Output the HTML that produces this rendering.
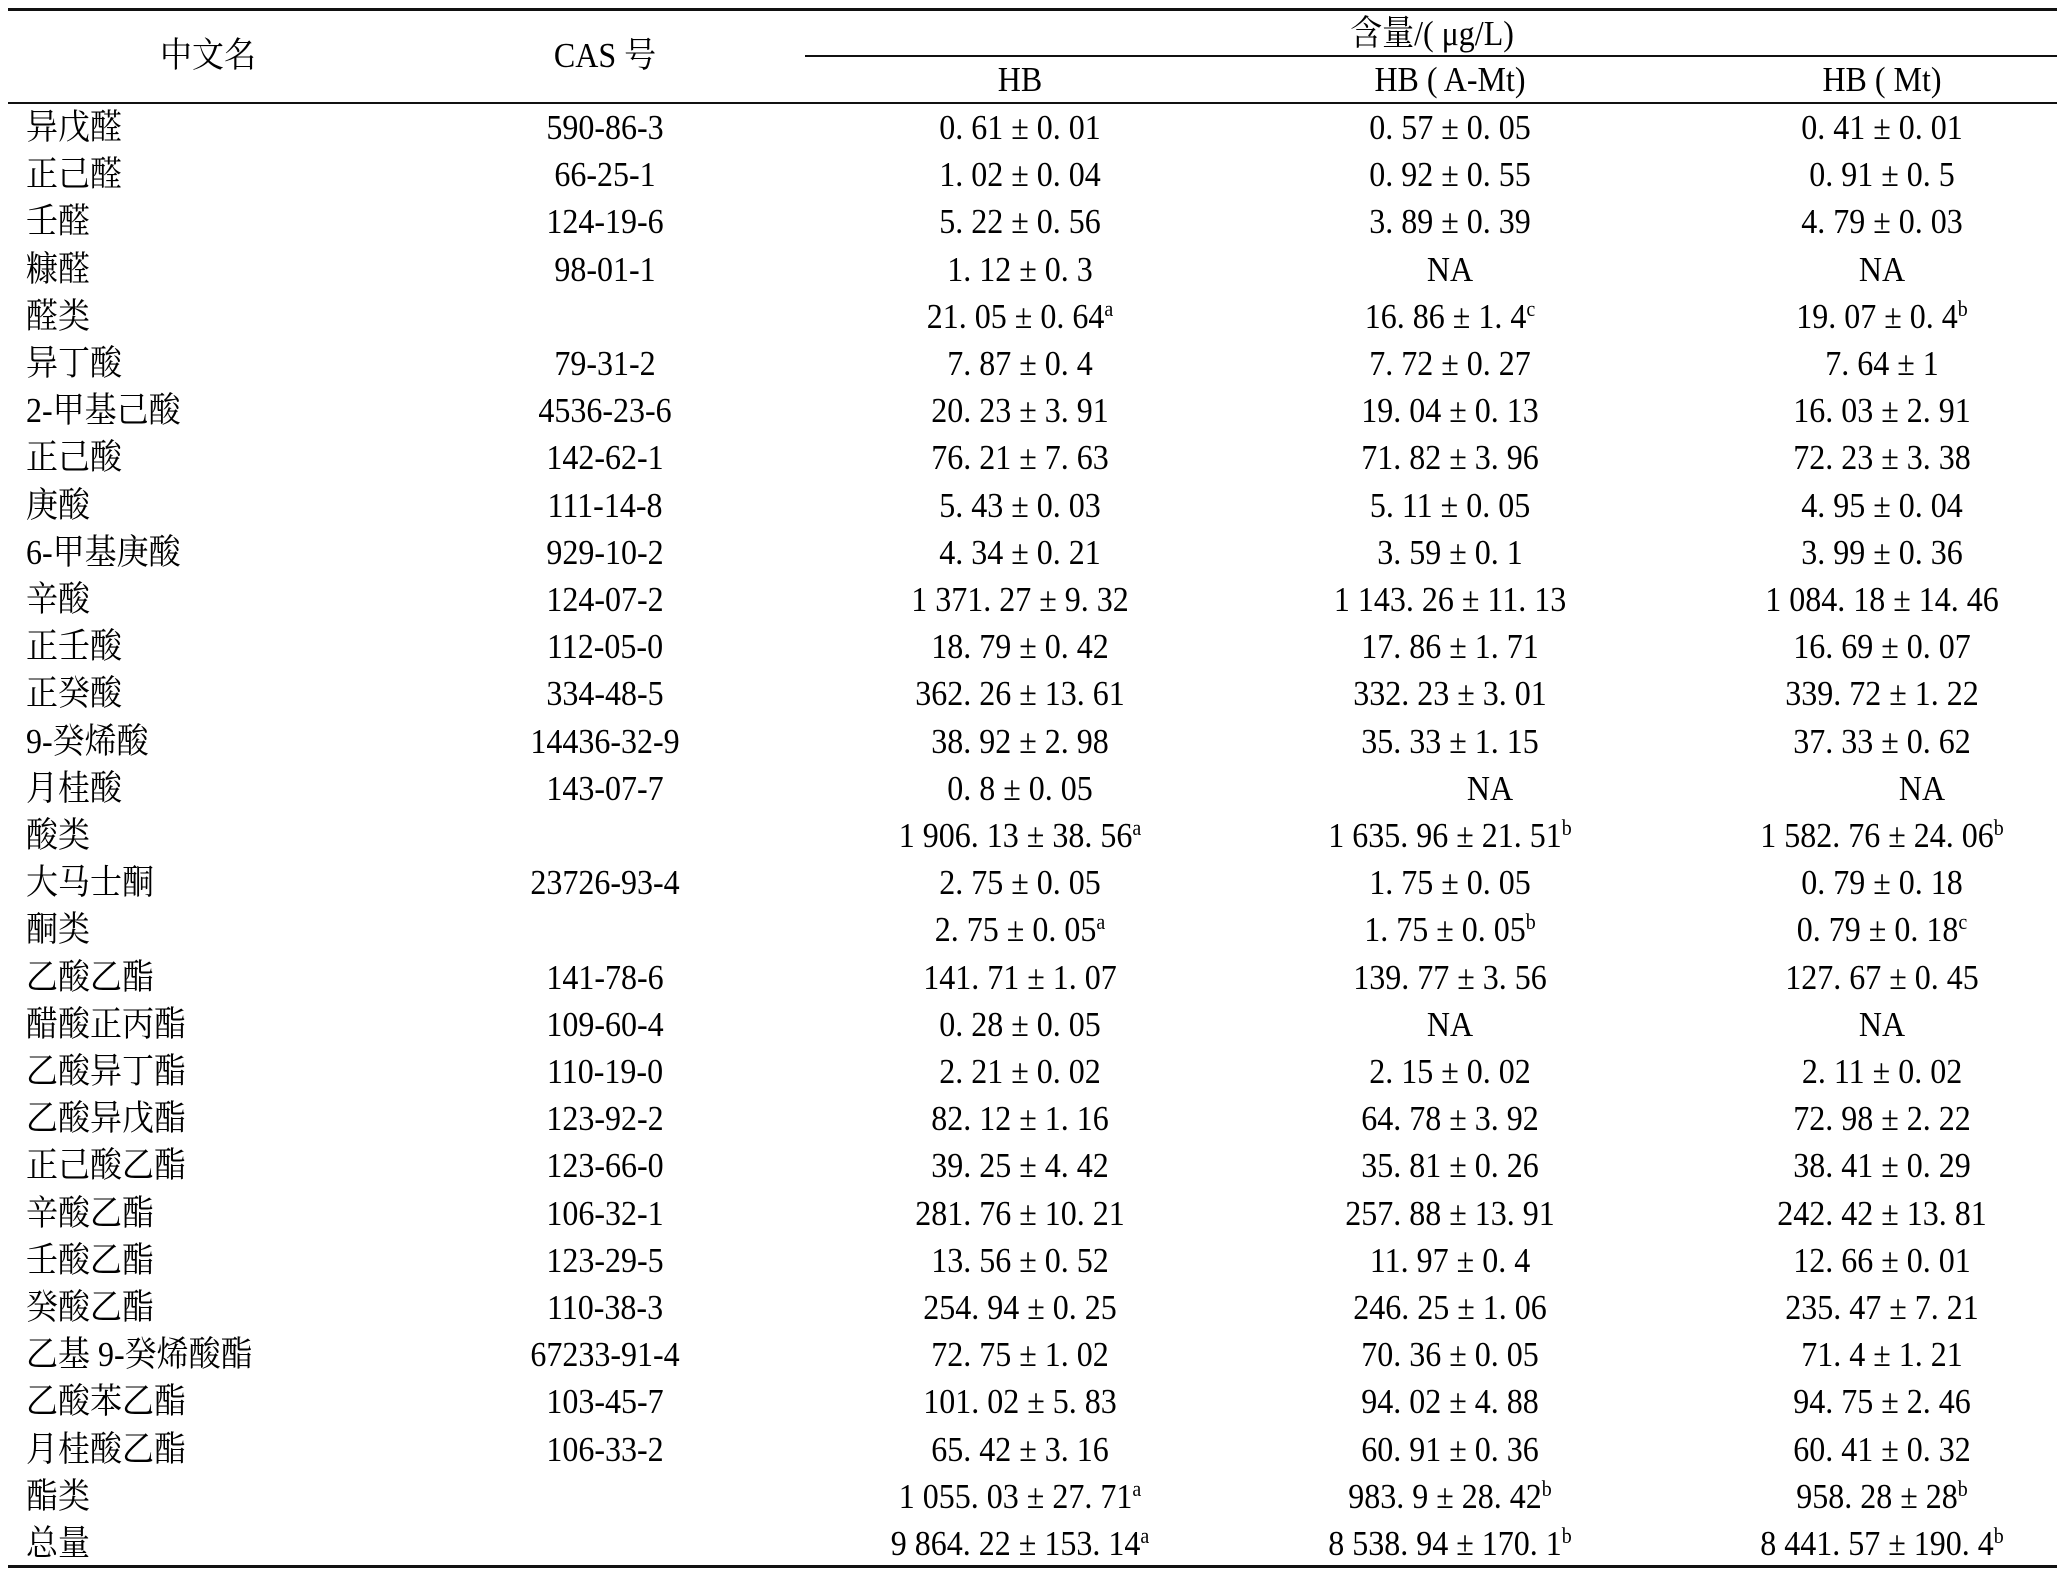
<!DOCTYPE html>
<html><head><meta charset="utf-8"><style>
body{margin:0;background:#fff;}
#c{position:relative;width:2064px;height:1584px;overflow:hidden;background:#fff;font-family:"Liberation Serif","Noto Serif CJK SC","Noto Sans CJK SC",serif;font-size:32px;color:#000;}
.r{position:absolute;left:0;width:2064px;height:47.2px;line-height:47.2px;white-space:pre;}
.r span{position:absolute;top:0;transform:scaleY(1.1);}
.n{left:26px;}
.a{left:455px;width:300px;text-align:center;}
.b{left:820px;width:400px;text-align:center;}
.m{left:1250px;width:400px;text-align:center;}
.t{left:1682px;width:400px;text-align:center;}
sup{font-size:20px;line-height:0;vertical-align:11px;}
.ln{position:absolute;background:#111;}
.h{position:absolute;line-height:40px;white-space:pre;transform:scaleY(1.1);}
</style></head><body><div id="c">
<div class="ln" style="left:8px;top:8px;width:2049px;height:3px"></div>
<div class="ln" style="left:805px;top:55px;width:1252px;height:1.5px"></div>
<div class="ln" style="left:8px;top:102px;width:2049px;height:2px"></div>
<div class="ln" style="left:8px;top:1565px;width:2049px;height:3px"></div>
<div class="h" style="left:108px;top:35px;width:200px;text-align:center">中文名</div>
<div class="h" style="left:455px;top:35px;width:300px;text-align:center">CAS 号</div>
<div class="h" style="left:1232px;top:13px;width:400px;text-align:center">含量/( μg/L)</div>
<div class="h" style="left:820px;top:59px;width:400px;text-align:center">HB</div>
<div class="h" style="left:1250px;top:59px;width:400px;text-align:center">HB ( A-Mt)</div>
<div class="h" style="left:1682px;top:59px;width:400px;text-align:center">HB ( Mt)</div>
<div style="position:absolute;left:0;top:104px">
<div class="r" style="top:0px"><span class="n">异戊醛</span><span class="a">590-86-3</span><span class="b">0. 61 ± 0. 01</span><span class="m">0. 57 ± 0. 05</span><span class="t">0. 41 ± 0. 01</span></div>
<div class="r" style="top:47.2px"><span class="n">正己醛</span><span class="a">66-25-1</span><span class="b">1. 02 ± 0. 04</span><span class="m">0. 92 ± 0. 55</span><span class="t">0. 91 ± 0. 5</span></div>
<div class="r" style="top:94.4px"><span class="n">壬醛</span><span class="a">124-19-6</span><span class="b">5. 22 ± 0. 56</span><span class="m">3. 89 ± 0. 39</span><span class="t">4. 79 ± 0. 03</span></div>
<div class="r" style="top:141.6px"><span class="n">糠醛</span><span class="a">98-01-1</span><span class="b">1. 12 ± 0. 3</span><span class="m">NA</span><span class="t">NA</span></div>
<div class="r" style="top:188.8px"><span class="n">醛类</span><span class="b">21. 05 ± 0. 64<sup>a</sup></span><span class="m">16. 86 ± 1. 4<sup>c</sup></span><span class="t">19. 07 ± 0. 4<sup>b</sup></span></div>
<div class="r" style="top:236px"><span class="n">异丁酸</span><span class="a">79-31-2</span><span class="b">7. 87 ± 0. 4</span><span class="m">7. 72 ± 0. 27</span><span class="t">7. 64 ± 1</span></div>
<div class="r" style="top:283.2px"><span class="n">2-甲基己酸</span><span class="a">4536-23-6</span><span class="b">20. 23 ± 3. 91</span><span class="m">19. 04 ± 0. 13</span><span class="t">16. 03 ± 2. 91</span></div>
<div class="r" style="top:330.4px"><span class="n">正己酸</span><span class="a">142-62-1</span><span class="b">76. 21 ± 7. 63</span><span class="m">71. 82 ± 3. 96</span><span class="t">72. 23 ± 3. 38</span></div>
<div class="r" style="top:377.6px"><span class="n">庚酸</span><span class="a">111-14-8</span><span class="b">5. 43 ± 0. 03</span><span class="m">5. 11 ± 0. 05</span><span class="t">4. 95 ± 0. 04</span></div>
<div class="r" style="top:424.8px"><span class="n">6-甲基庚酸</span><span class="a">929-10-2</span><span class="b">4. 34 ± 0. 21</span><span class="m">3. 59 ± 0. 1</span><span class="t">3. 99 ± 0. 36</span></div>
<div class="r" style="top:472px"><span class="n">辛酸</span><span class="a">124-07-2</span><span class="b">1 371. 27 ± 9. 32</span><span class="m">1 143. 26 ± 11. 13</span><span class="t">1 084. 18 ± 14. 46</span></div>
<div class="r" style="top:519.2px"><span class="n">正壬酸</span><span class="a">112-05-0</span><span class="b">18. 79 ± 0. 42</span><span class="m">17. 86 ± 1. 71</span><span class="t">16. 69 ± 0. 07</span></div>
<div class="r" style="top:566.4px"><span class="n">正癸酸</span><span class="a">334-48-5</span><span class="b">362. 26 ± 13. 61</span><span class="m">332. 23 ± 3. 01</span><span class="t">339. 72 ± 1. 22</span></div>
<div class="r" style="top:613.6px"><span class="n">9-癸烯酸</span><span class="a">14436-32-9</span><span class="b">38. 92 ± 2. 98</span><span class="m">35. 33 ± 1. 15</span><span class="t">37. 33 ± 0. 62</span></div>
<div class="r" style="top:660.8px"><span class="n">月桂酸</span><span class="a">143-07-7</span><span class="b">0. 8 ± 0. 05</span><span class="m" style="left:1290px">NA</span><span class="t" style="left:1722px">NA</span></div>
<div class="r" style="top:708px"><span class="n">酸类</span><span class="b">1 906. 13 ± 38. 56<sup>a</sup></span><span class="m">1 635. 96 ± 21. 51<sup>b</sup></span><span class="t">1 582. 76 ± 24. 06<sup>b</sup></span></div>
<div class="r" style="top:755.2px"><span class="n">大马士酮</span><span class="a">23726-93-4</span><span class="b">2. 75 ± 0. 05</span><span class="m">1. 75 ± 0. 05</span><span class="t">0. 79 ± 0. 18</span></div>
<div class="r" style="top:802.4px"><span class="n">酮类</span><span class="b">2. 75 ± 0. 05<sup>a</sup></span><span class="m">1. 75 ± 0. 05<sup>b</sup></span><span class="t">0. 79 ± 0. 18<sup>c</sup></span></div>
<div class="r" style="top:849.6px"><span class="n">乙酸乙酯</span><span class="a">141-78-6</span><span class="b">141. 71 ± 1. 07</span><span class="m">139. 77 ± 3. 56</span><span class="t">127. 67 ± 0. 45</span></div>
<div class="r" style="top:896.8px"><span class="n">醋酸正丙酯</span><span class="a">109-60-4</span><span class="b">0. 28 ± 0. 05</span><span class="m">NA</span><span class="t">NA</span></div>
<div class="r" style="top:944px"><span class="n">乙酸异丁酯</span><span class="a">110-19-0</span><span class="b">2. 21 ± 0. 02</span><span class="m">2. 15 ± 0. 02</span><span class="t">2. 11 ± 0. 02</span></div>
<div class="r" style="top:991.2px"><span class="n">乙酸异戊酯</span><span class="a">123-92-2</span><span class="b">82. 12 ± 1. 16</span><span class="m">64. 78 ± 3. 92</span><span class="t">72. 98 ± 2. 22</span></div>
<div class="r" style="top:1038.4px"><span class="n">正己酸乙酯</span><span class="a">123-66-0</span><span class="b">39. 25 ± 4. 42</span><span class="m">35. 81 ± 0. 26</span><span class="t">38. 41 ± 0. 29</span></div>
<div class="r" style="top:1085.6px"><span class="n">辛酸乙酯</span><span class="a">106-32-1</span><span class="b">281. 76 ± 10. 21</span><span class="m">257. 88 ± 13. 91</span><span class="t">242. 42 ± 13. 81</span></div>
<div class="r" style="top:1132.8px"><span class="n">壬酸乙酯</span><span class="a">123-29-5</span><span class="b">13. 56 ± 0. 52</span><span class="m">11. 97 ± 0. 4</span><span class="t">12. 66 ± 0. 01</span></div>
<div class="r" style="top:1180px"><span class="n">癸酸乙酯</span><span class="a">110-38-3</span><span class="b">254. 94 ± 0. 25</span><span class="m">246. 25 ± 1. 06</span><span class="t">235. 47 ± 7. 21</span></div>
<div class="r" style="top:1227.2px"><span class="n">乙基 9-癸烯酸酯</span><span class="a">67233-91-4</span><span class="b">72. 75 ± 1. 02</span><span class="m">70. 36 ± 0. 05</span><span class="t">71. 4 ± 1. 21</span></div>
<div class="r" style="top:1274.4px"><span class="n">乙酸苯乙酯</span><span class="a">103-45-7</span><span class="b">101. 02 ± 5. 83</span><span class="m">94. 02 ± 4. 88</span><span class="t">94. 75 ± 2. 46</span></div>
<div class="r" style="top:1321.6px"><span class="n">月桂酸乙酯</span><span class="a">106-33-2</span><span class="b">65. 42 ± 3. 16</span><span class="m">60. 91 ± 0. 36</span><span class="t">60. 41 ± 0. 32</span></div>
<div class="r" style="top:1368.8px"><span class="n">酯类</span><span class="b">1 055. 03 ± 27. 71<sup>a</sup></span><span class="m">983. 9 ± 28. 42<sup>b</sup></span><span class="t">958. 28 ± 28<sup>b</sup></span></div>
<div class="r" style="top:1416px"><span class="n">总量</span><span class="b">9 864. 22 ± 153. 14<sup>a</sup></span><span class="m">8 538. 94 ± 170. 1<sup>b</sup></span><span class="t">8 441. 57 ± 190. 4<sup>b</sup></span></div>
</div>
</div></body></html>
